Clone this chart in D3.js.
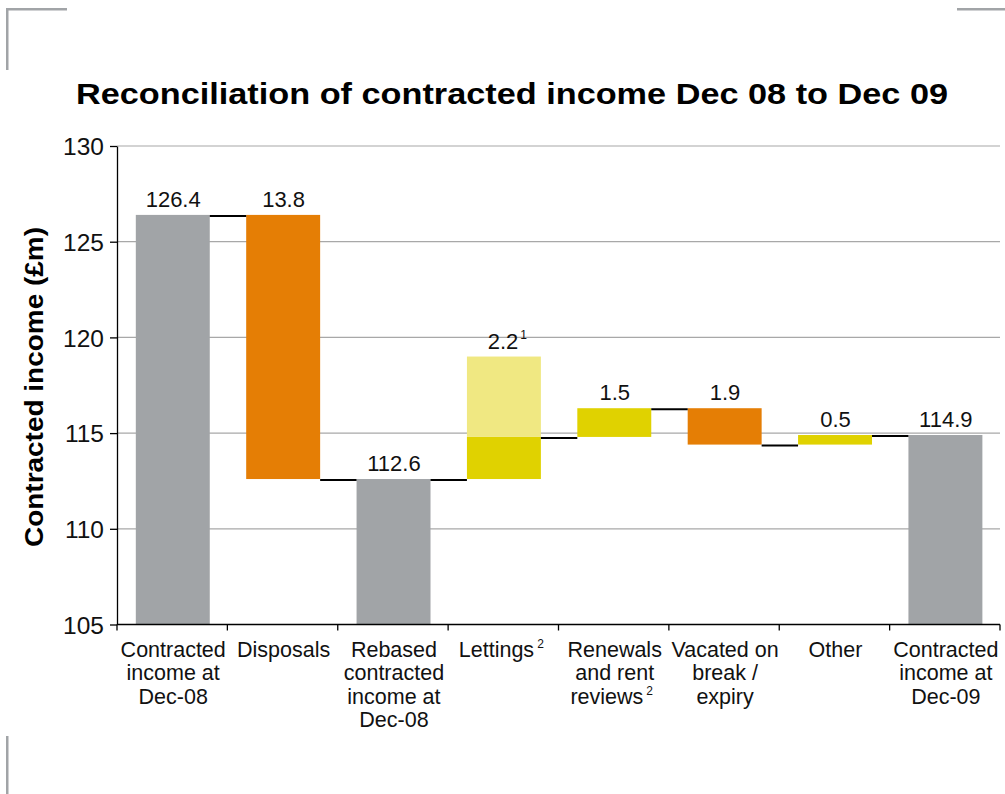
<!DOCTYPE html>
<html>
<head>
<meta charset="utf-8">
<script src="https://cdn.jsdelivr.net/npm/d3@7"></script>
<style>
  html, body { margin: 0; padding: 0; background: #fff; }
  svg { display: block; font-family: "Liberation Sans", Arial, sans-serif; }
</style>
</head>
<body>
<svg id="chart" width="1005" height="794"></svg>
<script>
// Reconciliation of contracted income, Dec 08 to Dec 09 (£m)
const categories = [
  "Contracted income at Dec-08",
  "Disposals",
  "Rebased contracted income at Dec-08",
  "Lettings",
  "Renewals and rent reviews",
  "Vacated on break / expiry",
  "Other",
  "Contracted income at Dec-09"
];
const categoryLines = [
  ["Contracted", "income at", "Dec-08"],
  ["Disposals"],
  ["Rebased", "contracted", "income at", "Dec-08"],
  ["Lettings"],
  ["Renewals", "and rent", "reviews"],
  ["Vacated on", "break /", "expiry"],
  ["Other"],
  ["Contracted", "income at", "Dec-09"]
];
const categoryNotes = ["", "", "", "2", "2", "", "", ""];   // superscript on last line
const stepKinds = ["total", "decrease", "total", "increase", "increase", "decrease", "increase", "total"];
const stepAmounts = [126.4, 13.8, 112.6, 2.2, 1.5, 1.9, 0.5, 114.9];
const valueLabels = ["126.4", "13.8", "112.6", "2.2", "1.5", "1.9", "0.5", "114.9"];
const valueNotes = ["", "", "", "1", "", "", "", ""];
const pendingLettings = [0, 0, 0, 4.2, 0, 0, 0, 0];          // lighter stacked section
const yTicks = [105, 110, 115, 120, 125, 130];
const yTickLabels = ["105", "110", "115", "120", "125", "130"];

const colors = {
  total: "#a1a4a7",
  decrease: "#e57e05",
  increase: "#e0d200",
  pending: "#f0e882",
  grid: "#a8a8a8",
  frame: "#a1a4a7"
};
const FONT = "'Liberation Sans', Arial, sans-serif";

const svg = d3.select("#chart");

// corner frame marks
const frame = svg.append("g").attr("fill", colors.frame);
frame.append("rect").attr("x", 6).attr("y", 8).attr("width", 61).attr("height", 2.5);
frame.append("rect").attr("x", 6).attr("y", 8).attr("width", 2.5).attr("height", 62);
frame.append("rect").attr("x", 957).attr("y", 8).attr("width", 48).attr("height", 2.5);
frame.append("rect").attr("x", 6).attr("y", 736).attr("width", 2.5).attr("height", 58);

// title
svg.append("text")
  .attr("x", 512).attr("y", 104)
  .attr("text-anchor", "middle")
  .attr("font-size", 30).attr("font-weight", "bold")
  .attr("textLength", 872).attr("lengthAdjust", "spacingAndGlyphs")
  .text("Reconciliation of contracted income Dec 08 to Dec 09");

// scales
const x = d3.scaleBand().domain(categories).range([117, 1000]).padding(0);
const y = d3.scaleLinear().domain([yTicks[0], yTicks[yTicks.length - 1]]).range([624.5, 146]);
const barFrac = 0.67;
const barW = x.bandwidth() * barFrac;
const barX = c => x(c) + (x.bandwidth() - barW) / 2 + 0.6;

// running totals -> bar extents
const steps = [];
let running = y.domain()[0];
categories.forEach((c, i) => {
  const k = stepKinds[i], a = stepAmounts[i];
  let from, to;
  if (k === "total") { from = y.domain()[0]; to = a; running = a; }
  else if (k === "increase") { from = running; to = running + a; running = to; }
  else { from = running; to = running - a; running = to; }
  steps.push({ c, i, k, from, to, level: running,
    top: Math.max(from, to) + pendingLettings[i] });
});

// gridlines
svg.append("g")
  .selectAll("line")
  .data(yTicks.slice(1))
  .join("line")
  .attr("x1", x.range()[0]).attr("x2", x.range()[1])
  .attr("y1", d => y(d)).attr("y2", d => y(d))
  .attr("stroke", colors.grid).attr("stroke-width", 1.2);

// bars
const bars = svg.append("g");
bars.selectAll("rect.step")
  .data(steps)
  .join("rect")
  .attr("class", "step")
  .attr("x", d => barX(d.c))
  .attr("width", barW)
  .attr("y", d => y(Math.max(d.from, d.to)))
  .attr("height", d => Math.abs(y(d.from) - y(d.to)))
  .attr("fill", d => colors[d.k]);
bars.selectAll("rect.pending")
  .data(steps.filter(d => pendingLettings[d.i] > 0))
  .join("rect")
  .attr("class", "pending")
  .attr("x", d => barX(d.c))
  .attr("width", barW)
  .attr("y", d => y(Math.max(d.from, d.to) + pendingLettings[d.i]))
  .attr("height", d => y(Math.max(d.from, d.to)) - y(Math.max(d.from, d.to) + pendingLettings[d.i]))
  .attr("fill", colors.pending);

// connectors between consecutive bars at the running level
svg.append("g")
  .selectAll("line")
  .data(steps.slice(0, -1))
  .join("line")
  .attr("x1", d => barX(d.c) + barW)
  .attr("x2", d => barX(categories[d.i + 1]))
  .attr("y1", d => y(d.level) + 1)
  .attr("y2", d => y(d.level) + 1)
  .attr("stroke", "#000").attr("stroke-width", 2);

// value labels
const vl = svg.append("g")
  .selectAll("text")
  .data(steps)
  .join("text")
  .attr("x", d => x(d.c) + x.bandwidth() / 2 + (valueNotes[d.i] ? 4 : 1))
  .attr("y", d => y(d.i === 1 ? d.from : d.top) - 8)
  .attr("text-anchor", "middle")
  .attr("font-size", 22)
  .attr("fill", "#111");
vl.append("tspan").text(d => valueLabels[d.i]);
vl.filter(d => valueNotes[d.i])
  .append("tspan")
  .attr("font-size", 12)
  .attr("dx", 2).attr("dy", -10)
  .text(d => valueNotes[d.i]);

// y axis
const yAxis = svg.append("g")
  .attr("transform", `translate(${x.range()[0]},0)`)
  .call(d3.axisLeft(y).tickValues(yTicks).tickSizeOuter(0).tickSizeInner(7).tickPadding(6)
    .tickFormat((d, i) => yTickLabels[i]));
yAxis.attr("font-family", FONT);
yAxis.select(".domain").attr("stroke", "#000").attr("stroke-width", 1.3);
yAxis.selectAll(".tick line").attr("stroke", "#000").attr("stroke-width", 1.3);
yAxis.selectAll(".tick text")
  .attr("font-size", 24.5).attr("fill", "#111").attr("dy", "0.36em");

// y axis title
svg.append("text")
  .attr("transform", "translate(43,387) rotate(-90)")
  .attr("text-anchor", "middle")
  .attr("font-size", 25).attr("font-weight", "bold")
  .attr("textLength", 320).attr("lengthAdjust", "spacingAndGlyphs")
  .text("Contracted income (£m)");

// x axis line and band-edge ticks
const xa = svg.append("g").attr("stroke", "#000").attr("stroke-width", 1.3);
xa.append("line")
  .attr("x1", x.range()[0]).attr("x2", x.range()[1])
  .attr("y1", y.range()[0]).attr("y2", y.range()[0]);
xa.selectAll("line.edge")
  .data(categories.map(c => x(c)).concat([x.range()[1]]))
  .join("line")
  .attr("class", "edge")
  .attr("x1", d => d).attr("x2", d => d)
  .attr("y1", y.range()[0]).attr("y2", y.range()[0] + 6);

// category labels
const cl = svg.append("g")
  .selectAll("text")
  .data(categories)
  .join("text")
  .attr("text-anchor", "middle")
  .attr("font-size", 21.5)
  .attr("fill", "#111")
  .attr("transform", c => `translate(${x(c) + x.bandwidth() / 2 + 1},657)`);
cl.each(function (c, i) {
  const t = d3.select(this);
  const lines = categoryLines[i];
  lines.forEach((ln, j) => {
    t.append("tspan").attr("x", categoryNotes[i] && j === lines.length - 1 ? -3 : 0)
      .attr("dy", j === 0 ? 0 : 23.3).text(ln);
    if (j === lines.length - 1 && categoryNotes[i]) {
      t.append("tspan").attr("font-size", 12).attr("dx", 3).attr("dy", -9).text(categoryNotes[i]);
    }
  });
});
</script>
</body>
</html>
